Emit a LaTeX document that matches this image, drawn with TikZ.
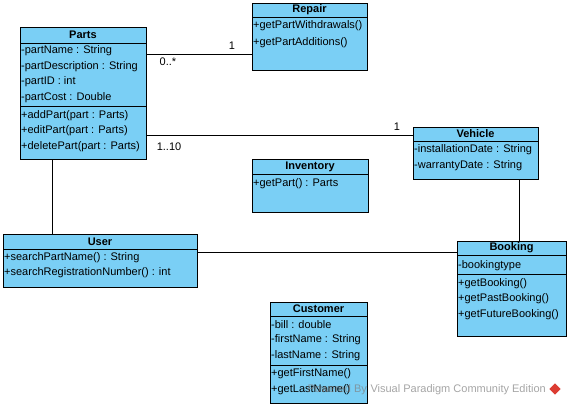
\documentclass[tikz,border=0pt]{standalone}
\usepackage{fontspec}
\setmainfont{Liberation Sans}
\definecolor{classfill}{RGB}{122,207,245}
\definecolor{vpred}{RGB}{220,60,50}
\begin{document}
\begin{tikzpicture}[x=1pt,y=-1pt,
  box/.style={draw,line width=1pt,fill=classfill,anchor=north west,inner sep=0pt,outer sep=0pt},
  title/.style={font=\fontsize{11}{12}\selectfont\bfseries,inner sep=0pt},
  member/.style={font=\fontsize{11}{12}\selectfont,anchor=west,inner sep=0pt},
  sep/.style={line width=1pt},
  conn/.style={line width=1pt},
  mult/.style={font=\fontsize{11}{12}\selectfont,inner sep=0pt}]
\useasboundingbox (0,0) rectangle (569,407);
\fill[white] (0,0) rectangle (569,407);

% ---------- Parts
\node[box,minimum width=126pt,minimum height=132pt] (parts) at (20,27) {};
\node[title] (partsT) at (83,35) {Parts};
\draw[sep] (20,43) -- (146,43);
\node[member] (p1) at (21,51) {-partName : String};
\node[member] (p2) at (21,66.5) {-partDescription : String};
\node[member] (p3) at (21,82) {-partID : int};
\node[member] (p4) at (21,97.5) {-partCost : Double};
\draw[sep] (20,106) -- (146,106);
\node[member] (p5) at (21,115.5) {+addPart(part : Parts)};
\node[member] (p6) at (21,131) {+editPart(part : Parts)};
\node[member] (p7) at (21,146.5) {+deletePart(part : Parts)};

% ---------- Repair
\node[box,minimum width=115pt,minimum height=67pt] (repair) at (252,3) {};
\node[title] (repairT) at (309.5,10) {Repair};
\draw[sep] (252,17) -- (367,17);
\node[member] (r1) at (253,26) {+getPartWithdrawals()};
\node[member] (r2) at (253,42.5) {+getPartAdditions()};

% ---------- Vehicle
\node[box,minimum width=125pt,minimum height=52pt] (vehicle) at (413,127) {};
\node[title] (vehicleT) at (475.5,134) {Vehicle};
\draw[sep] (413,141) -- (538,141);
\node[member] (v1) at (414,150) {-installationDate : String};
\node[member] (v2) at (414,166) {-warrantyDate : String};

% ---------- Inventory
\node[box,minimum width=116pt,minimum height=53pt] (inventory) at (252,159) {};
\node[title] (inventoryT) at (310,167) {Inventory};
\draw[sep] (252,174) -- (368,174);
\node[member] (i1) at (253,184) {+getPart() : Parts};

% ---------- User
\node[box,minimum width=194pt,minimum height=53pt] (user) at (3,234) {};
\node[title] (userT) at (100,242) {User};
\draw[sep] (3,249) -- (197,249);
\node[member] (u1) at (4,258) {+searchPartName() : String};
\node[member] (u2) at (4,273) {+searchRegistrationNumber() : int};

% ---------- Booking
\node[box,minimum width=109pt,minimum height=95pt] (booking) at (457,241) {};
\node[title] (bookingT) at (511.5,248) {Booking};
\draw[sep] (457,255) -- (566,255);
\node[member] (b1) at (458,266) {-bookingtype};
\draw[sep] (457,274) -- (566,274);
\node[member] (b2) at (458,283.5) {+getBooking()};
\node[member] (b3) at (458,299) {+getPastBooking()};
\node[member] (b4) at (458,314.5) {+getFutureBooking()};

% ---------- Customer
\node[box,minimum width=97pt,minimum height=101pt] (customer) at (270,302) {};
\node[title] (customerT) at (318.5,309) {Customer};
\draw[sep] (270,316) -- (367,316);
\node[member] (c1) at (271,325) {-bill : double};
\node[member] (c2) at (271,340) {-firstName : String};
\node[member] (c3) at (271,355.5) {-lastName : String};
\draw[sep] (270,365) -- (367,365);
\node[member] (c4) at (271,374) {+getFirstName()};
\node[member] (c5) at (271,389.5) {+getLastName()};

% ---------- watermark
\node[member,anchor=east,text=gray,opacity=0.7] (wm) at (546,390) {Powered By\,\,Visual Paradigm Community Edition};
\node[fill=vpred,rotate=45,minimum size=8pt,inner sep=0pt] (logo) at (555,389) {};

% ---------- connectors
\draw[conn] (parts.north east |- 0,54) -- (repair.north west |- 0,54);
\node[mult] (m1) at (232,46) {1};
\node[mult] (m2) at (168,62) {0..*};
\draw[conn] (parts.north east |- 0,135) -- (vehicle.north west |- 0,135);
\node[mult] (m3) at (397,127) {1};
\node[mult] (m4) at (169,147) {1..10};
\draw[conn] (vehicle.south west -| 519,0) -- (booking.north west -| 519,0);
\draw[conn] (parts.south west -| 52,0) -- (user.north west -| 52,0);
\draw[conn] (user.north east |- 0,252) -- (booking.north west |- 0,252);
\end{tikzpicture}
\end{document}
